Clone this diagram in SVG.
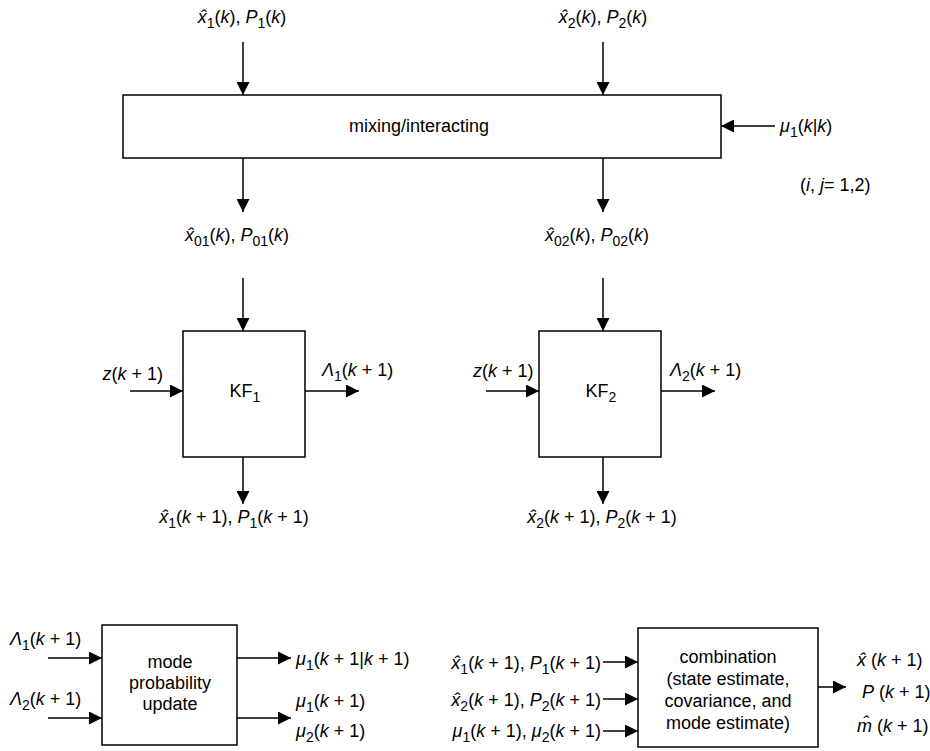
<svg xmlns="http://www.w3.org/2000/svg" width="930" height="751" viewBox="0 0 930 751">
<style>
text{font-family:"Liberation Sans",Arial,sans-serif;font-size:18px;fill:#000}
.i{font-style:italic}
.s{font-size:14px}
.box{fill:#fff;stroke:#000;stroke-width:1.5}
.ln{stroke:#000;stroke-width:1.5;fill:none;marker-end:url(#ah)}
</style>
<defs>
<marker id="ah" viewBox="0 0 12 12" refX="12" refY="6" markerWidth="14" markerHeight="13" markerUnits="userSpaceOnUse" orient="auto">
<path d="M0,0 L12,6 L0,12 Z" fill="#000"/>
</marker>
</defs>
<rect width="930" height="751" fill="#fff"/>
<g id="connectors">
<line class="ln" x1="243" y1="42" x2="243" y2="95"/>
<line class="ln" x1="603" y1="42" x2="603" y2="95"/>
<line class="ln" x1="775" y1="126" x2="721" y2="126"/>
<line class="ln" x1="243" y1="158" x2="243" y2="212"/>
<line class="ln" x1="603" y1="158" x2="603" y2="212"/>
<line class="ln" x1="243" y1="278" x2="243" y2="331"/>
<line class="ln" x1="603" y1="278" x2="603" y2="331"/>
<line class="ln" x1="130" y1="391" x2="183" y2="391"/>
<line class="ln" x1="305" y1="391" x2="359" y2="391"/>
<line class="ln" x1="486" y1="391" x2="539" y2="391"/>
<line class="ln" x1="661" y1="391" x2="715" y2="391"/>
<line class="ln" x1="243" y1="457" x2="243" y2="504"/>
<line class="ln" x1="603" y1="457" x2="603" y2="504"/>
<line class="ln" x1="48" y1="658" x2="102" y2="658"/>
<line class="ln" x1="48" y1="718" x2="102" y2="718"/>
<line class="ln" x1="237" y1="658" x2="291" y2="658"/>
<line class="ln" x1="237" y1="718" x2="291" y2="718"/>
<line class="ln" x1="603" y1="662" x2="638" y2="662"/>
<line class="ln" x1="603" y1="699" x2="638" y2="699"/>
<line class="ln" x1="603" y1="731" x2="638" y2="731"/>
<line class="ln" x1="818" y1="687" x2="846" y2="687"/>
</g>
<g id="labels">
<text x="242" y="23" text-anchor="middle"><tspan class="i">x̂</tspan><tspan class="s" dy="5">1</tspan><tspan dy="-5">(</tspan><tspan class="i">k</tspan>), <tspan class="i">P</tspan><tspan class="s" dy="5">1</tspan><tspan dy="-5">(</tspan><tspan class="i">k</tspan>)</text>
<text x="603" y="23" text-anchor="middle"><tspan class="i">x̂</tspan><tspan class="s" dy="5">2</tspan><tspan dy="-5">(</tspan><tspan class="i">k</tspan>), <tspan class="i">P</tspan><tspan class="s" dy="5">2</tspan><tspan dy="-5">(</tspan><tspan class="i">k</tspan>)</text>
<text x="780" y="132"><tspan class="i">μ</tspan><tspan class="s" dy="5">1</tspan><tspan dy="-5">(</tspan><tspan class="i">k</tspan>|<tspan class="i">k</tspan>)</text>
<text x="800" y="191">(<tspan class="i">i</tspan>, <tspan class="i">j</tspan>= 1,2)</text>
<text x="237" y="241" text-anchor="middle"><tspan class="i">x̂</tspan><tspan class="s" dy="5">01</tspan><tspan dy="-5">(</tspan><tspan class="i">k</tspan>), <tspan class="i">P</tspan><tspan class="s" dy="5">01</tspan><tspan dy="-5">(</tspan><tspan class="i">k</tspan>)</text>
<text x="597" y="241" text-anchor="middle"><tspan class="i">x̂</tspan><tspan class="s" dy="5">02</tspan><tspan dy="-5">(</tspan><tspan class="i">k</tspan>), <tspan class="i">P</tspan><tspan class="s" dy="5">02</tspan><tspan dy="-5">(</tspan><tspan class="i">k</tspan>)</text>
<text x="163" y="380" text-anchor="end"><tspan class="i">z</tspan>(<tspan class="i">k</tspan> + 1)</text>
<text x="473" y="377"><tspan class="i">z</tspan>(<tspan class="i">k</tspan> + 1)</text>
<text x="322" y="376"><tspan class="i">Λ</tspan><tspan class="s" dy="5">1</tspan><tspan dy="-5">(</tspan><tspan class="i">k</tspan> + 1)</text>
<text x="670" y="376"><tspan class="i">Λ</tspan><tspan class="s" dy="5">2</tspan><tspan dy="-5">(</tspan><tspan class="i">k</tspan> + 1)</text>
<text x="234" y="523" text-anchor="middle"><tspan class="i">x̂</tspan><tspan class="s" dy="5">1</tspan><tspan dy="-5">(</tspan><tspan class="i">k</tspan> + 1), <tspan class="i">P</tspan><tspan class="s" dy="5">1</tspan><tspan dy="-5">(</tspan><tspan class="i">k</tspan> + 1)</text>
<text x="602" y="523" text-anchor="middle"><tspan class="i">x̂</tspan><tspan class="s" dy="5">2</tspan><tspan dy="-5">(</tspan><tspan class="i">k</tspan> + 1), <tspan class="i">P</tspan><tspan class="s" dy="5">2</tspan><tspan dy="-5">(</tspan><tspan class="i">k</tspan> + 1)</text>
<text x="10" y="645"><tspan class="i">Λ</tspan><tspan class="s" dy="5">1</tspan><tspan dy="-5">(</tspan><tspan class="i">k</tspan> + 1)</text>
<text x="10" y="705"><tspan class="i">Λ</tspan><tspan class="s" dy="5">2</tspan><tspan dy="-5">(</tspan><tspan class="i">k</tspan> + 1)</text>
<text x="296" y="665"><tspan class="i">μ</tspan><tspan class="s" dy="5">1</tspan><tspan dy="-5">(</tspan><tspan class="i">k</tspan> + 1|<tspan class="i">k</tspan> + 1)</text>
<text x="296" y="707"><tspan class="i">μ</tspan><tspan class="s" dy="5">1</tspan><tspan dy="-5">(</tspan><tspan class="i">k</tspan> + 1)</text>
<text x="296" y="737"><tspan class="i">μ</tspan><tspan class="s" dy="5">2</tspan><tspan dy="-5">(</tspan><tspan class="i">k</tspan> + 1)</text>
<text x="601" y="669" text-anchor="end"><tspan class="i">x̂</tspan><tspan class="s" dy="5">1</tspan><tspan dy="-5">(</tspan><tspan class="i">k</tspan> + 1), <tspan class="i">P</tspan><tspan class="s" dy="5">1</tspan><tspan dy="-5">(</tspan><tspan class="i">k</tspan> + 1)</text>
<text x="601" y="706" text-anchor="end"><tspan class="i">x̂</tspan><tspan class="s" dy="5">2</tspan><tspan dy="-5">(</tspan><tspan class="i">k</tspan> + 1), <tspan class="i">P</tspan><tspan class="s" dy="5">2</tspan><tspan dy="-5">(</tspan><tspan class="i">k</tspan> + 1)</text>
<text x="601" y="737" text-anchor="end"><tspan class="i">μ</tspan><tspan class="s" dy="5">1</tspan><tspan dy="-5">(</tspan><tspan class="i">k</tspan> + 1), <tspan class="i">μ</tspan><tspan class="s" dy="5">2</tspan><tspan dy="-5">(</tspan><tspan class="i">k</tspan> + 1)</text>
<text x="857" y="666"><tspan class="i">x̂</tspan> (<tspan class="i">k</tspan> + 1)</text>
<text x="862" y="698"><tspan class="i">P</tspan> (<tspan class="i">k</tspan> + 1)</text>
<text x="857" y="732"><tspan class="i">m̂</tspan> (<tspan class="i">k</tspan> + 1)</text>
</g>
<g id="mixing">
<rect class="box" x="123" y="95" width="598" height="63"/>
<text x="419" y="132" text-anchor="middle">mixing/interacting</text>
</g>
<g id="kf1">
<rect class="box" x="183" y="331" width="122" height="126"/>
<text x="245" y="397" text-anchor="middle">KF<tspan class="s" dy="5">1</tspan></text>
</g>
<g id="kf2">
<rect class="box" x="539" y="331" width="122" height="126"/>
<text x="601" y="397" text-anchor="middle">KF<tspan class="s" dy="5">2</tspan></text>
</g>
<g id="mode">
<rect class="box" x="102" y="625" width="135" height="120"/>
<text x="170" y="668" text-anchor="middle">mode</text>
<text x="170" y="689" text-anchor="middle">probability</text>
<text x="170" y="710" text-anchor="middle">update</text>
</g>
<g id="combination">
<rect class="box" x="638" y="628" width="180" height="119"/>
<text x="728" y="663" text-anchor="middle">combination</text>
<text x="728" y="685" text-anchor="middle">(state estimate,</text>
<text x="728" y="707" text-anchor="middle">covariance, and</text>
<text x="728" y="729" text-anchor="middle">mode estimate)</text>
</g>
</svg>
